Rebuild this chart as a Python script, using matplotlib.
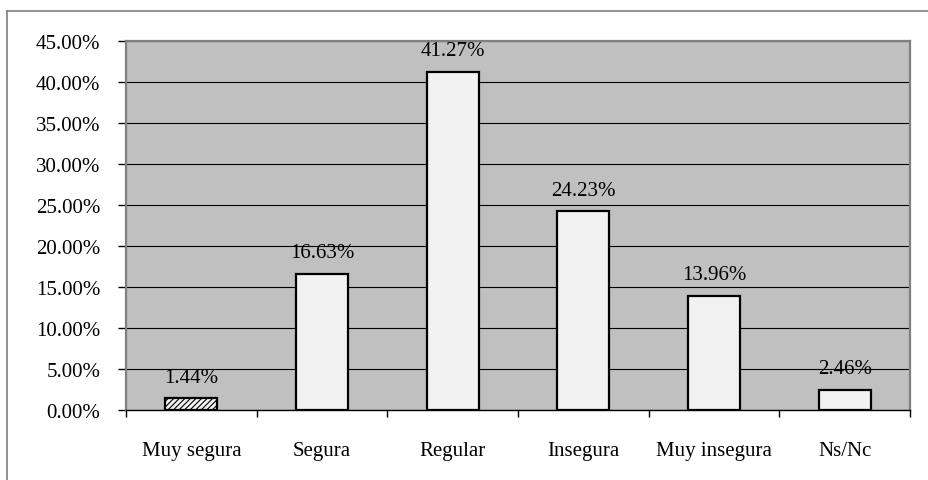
import matplotlib.pyplot as plt
from matplotlib.lines import Line2D
from matplotlib.ticker import FuncFormatter, MultipleLocator

categories = ["Muy segura", "Segura", "Regular", "Insegura", "Muy insegura", "Ns/Nc"]
values = [1.44, 16.63, 41.27, 24.23, 13.96, 2.46]

plt.rcParams["font.family"] = ["Liberation Serif", "DejaVu Serif"]
plt.rcParams["hatch.color"] = "#404040"
plt.rcParams["hatch.linewidth"] = 0.8

fs = 15

fig = plt.figure(figsize=(9.29, 4.81), dpi=100)
ax = fig.add_axes([126 / 929, 1 - 411 / 481, (910 - 126) / 929, (411 - 42) / 481])
ax.set_facecolor("#C0C0C0")

x = list(range(len(categories)))
bars = ax.bar(x, values, width=0.4, color="#F2F2F2", edgecolor="black", linewidth=1.6, zorder=3)
bars[0].set_hatch("//////")

# value labels above bars
for xi, v in zip(x, values):
    ax.annotate(f"{v:.2f}%", (xi, v), xytext=(0, 12), textcoords="offset points",
                ha="center", va="baseline", fontsize=fs, zorder=4)

ax.set_xlim(-0.5, len(categories) - 0.5)
ax.set_ylim(0, 45)
ax.yaxis.set_major_locator(MultipleLocator(5))
ax.yaxis.set_major_formatter(FuncFormatter(lambda v, p: f"{v:.2f}%"))
ax.grid(axis="y", color="black", linewidth=0.8, zorder=1)

# ticks between categories, labels centred under bars
ax.set_xticks([i + 0.5 for i in range(-1, len(categories))])
ax.set_xticklabels([])
ax.set_xticks(x, minor=True)
ax.set_xticklabels(categories, minor=True)
ax.tick_params(axis="x", which="minor", length=0, pad=22, labelsize=fs)
ax.tick_params(axis="x", which="major", length=5, color="black", width=1)
ax.tick_params(axis="y", length=5.5, width=1, labelsize=fs, pad=13)

for side in ("top", "right", "left"):
    ax.spines[side].set_color("#808080")
    ax.spines[side].set_linewidth(1.6)
ax.spines["bottom"].set_color("black")
ax.spines["bottom"].set_linewidth(1)

# partial frame of the original chart area
fig.add_artist(Line2D([7 / 929, 7 / 929], [0, 1 - 12 / 481], transform=fig.transFigure,
                      color="#808080", linewidth=1.2))
fig.add_artist(Line2D([7 / 929, 1], [1 - 12 / 481, 1 - 12 / 481], transform=fig.transFigure,
                      color="#808080", linewidth=1.2))

fig.savefig("out.png", dpi=100)
